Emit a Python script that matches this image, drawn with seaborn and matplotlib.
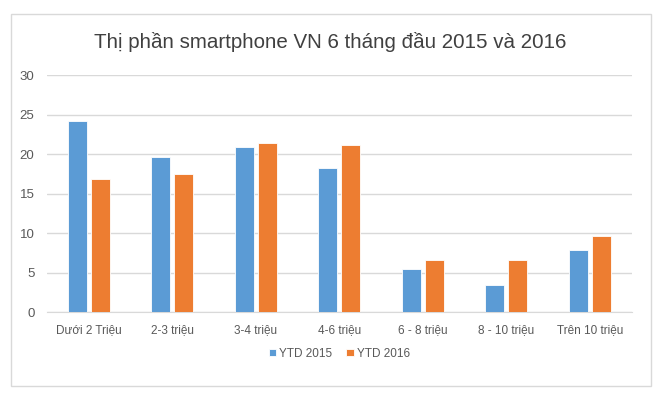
import matplotlib
matplotlib.use("Agg")
import matplotlib.pyplot as plt
import matplotlib.patches as mpatches
import seaborn as sns
import pandas as pd

categories = ["Dưới 2 Triệu", "2-3 triệu", "3-4 triệu", "4-6 triệu",
              "6 - 8 triệu", "8 - 10 triệu", "Trên 10 triệu"]
ytd_2015 = [24.2, 19.7, 20.9, 18.2, 5.5, 3.4, 7.9]
ytd_2016 = [16.9, 17.5, 21.4, 21.2, 6.6, 6.6, 9.6]
series = ["YTD 2015", "YTD 2016"]
y_ticks = [0, 5, 10, 15, 20, 25, 30]

df = pd.DataFrame({
    "category": categories * 2,
    "value": ytd_2015 + ytd_2016,
    "series": [series[0]] * len(categories) + [series[1]] * len(categories),
})

sns.set_style("white")
plt.rcParams["font.family"] = ["Liberation Sans", "DejaVu Sans"]

fig = plt.figure(figsize=(6.6, 3.96), dpi=100)
ax = fig.add_axes([0.0712, 0.212, 0.886, 0.598])

sns.barplot(
    data=df, x="category", y="value", hue="series",
    palette=["#5B9BD5", "#ED7D31"], saturation=1, width=0.55, gap=0.17,
    edgecolor="white", linewidth=0.6, ax=ax, zorder=3,
)

ax.set_ylim(0, 30)
ax.set_yticks(y_ticks)
ax.yaxis.grid(True, color="#D9D9D9", linewidth=1, zorder=0)
ax.set_axisbelow(True)
for s in ["top", "right", "left"]:
    ax.spines[s].set_visible(False)
ax.spines["bottom"].set_color("#D9D9D9")
ax.tick_params(axis="both", length=0, labelcolor="#595959")
ax.tick_params(axis="x", pad=9, labelsize=8.5)
ax.tick_params(axis="y", pad=9, labelsize=9.5)
ax.set_xlabel("")
ax.set_ylabel("")

ax.legend(
    loc="upper center", bbox_to_anchor=(0.5, -0.105), ncol=2, frameon=False,
    fontsize=8.5, handlelength=0.6, handleheight=0.6, handletextpad=0.3,
    columnspacing=1.2, labelcolor="#595959",
)

fig.text(0.5, 0.880, "Thị phần smartphone VN 6 tháng đầu 2015 và 2016",
         ha="center", va="baseline", fontsize=14.8, color="#404040")

border = mpatches.Rectangle((11 / 660, 1 - 386 / 396), 640 / 660, 372 / 396,
                            transform=fig.transFigure, fill=False,
                            edgecolor="#D9D9D9", linewidth=1)
fig.patches.append(border)

fig.savefig("out.png", dpi=100)
